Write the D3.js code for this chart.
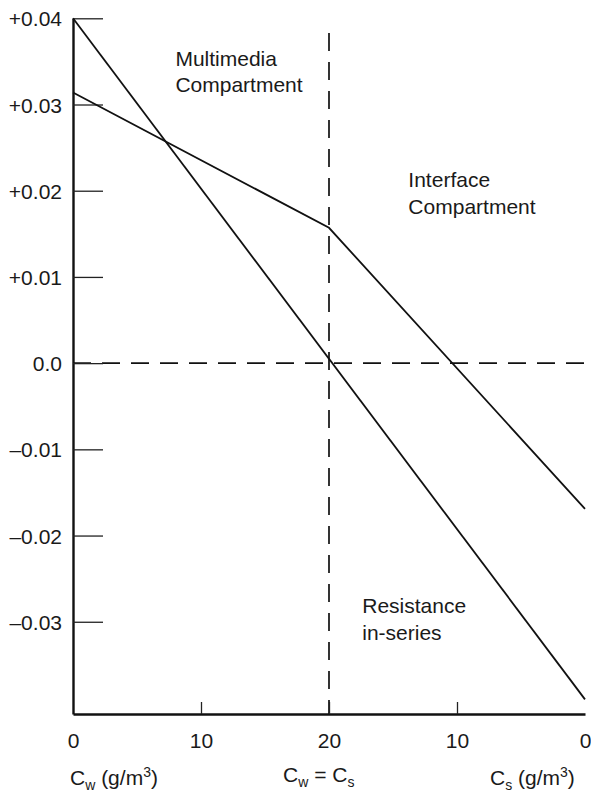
<!DOCTYPE html>
<html>
<head>
<meta charset="utf-8">
<script src="https://cdn.jsdelivr.net/npm/d3@7"></script>
<style>
  body { margin: 0; background: #fff; }
  svg { font-family: "Liberation Sans", Arial, Helvetica, sans-serif; }
  text { fill: #1a1a1a; }
</style>
</head>
<body>
<div id="chart"></div>
<script>
// x runs 0..40: left half is Cw 0 -> 20, right half is Cs 20 -> 0
const yTicks = [0.04, 0.03, 0.02, 0.01, 0, -0.01, -0.02, -0.03];
const yTickLabels = ['+0.04', '+0.03', '+0.02', '+0.01', '0.0', '\u20130.01', '\u20130.02', '\u20130.03'];
const xTicks = [0, 10, 20, 30, 40];
const xTickLabels = ['0', '10', '20', '10', '0'];

const resistanceSeries = [[0, 0.04], [40, -0.039]];
const interfaceSeries = [[0, 0.0314], [20, 0.0157], [40, -0.0169]];

const curveLabels = [
  { lines: ['Multimedia', 'Compartment'], x: 8.0, y: 0.0345 },
  { lines: ['Interface', 'Compartment'], x: 26.2, y: 0.0204 },
  { lines: ['Resistance', 'in-series'], x: 22.6, y: -0.0290 }
];

const W = 591, H = 793;
const margin = { left: 73, right: 6, top: 18.3, bottom: 79 };

const svg = d3.select('#chart').append('svg')
  .attr('width', W)
  .attr('height', H);

const x = d3.scaleLinear()
  .domain([0, 40])
  .range([margin.left, W - margin.right]);

const y = d3.scaleLinear()
  .domain([-0.0407, 0.04])
  .range([H - margin.bottom, margin.top]);

// reference lines
svg.append('line')
  .attr('x1', x(0)).attr('x2', x(40))
  .attr('y1', y(0)).attr('y2', y(0))
  .attr('stroke', '#111').attr('stroke-width', 1.7)
  .attr('stroke-dasharray', '18,11');

svg.append('line')
  .attr('x1', x(20)).attr('x2', x(20))
  .attr('y1', y(0.0383)).attr('y2', y.range()[0])
  .attr('stroke', '#111').attr('stroke-width', 1.7)
  .attr('stroke-dasharray', '18,11');

// y axis
const yAxis = svg.append('g')
  .attr('transform', `translate(${margin.left},0)`)
  .call(d3.axisLeft(y)
    .tickValues(yTicks)
    .tickFormat((d, i) => yTickLabels[i])
    .tickSize(-30)
    .tickSizeOuter(0)
    .tickPadding(11));

yAxis.select('.domain').attr('stroke', '#111').attr('stroke-width', 2.4);
yAxis.selectAll('.tick line').attr('stroke', '#222').attr('stroke-width', 1.3);
yAxis.selectAll('.tick text')
  .attr('x', -11)
  .attr('dy', '0.36em')
  .attr('font-size', 21)
  .style('fill', '#1a1a1a');

// x axis
const xAxis = svg.append('g')
  .attr('transform', `translate(0,${y.range()[0]})`)
  .call(d3.axisBottom(x)
    .tickValues(xTicks)
    .tickFormat((d, i) => xTickLabels[i])
    .tickSize(-12)
    .tickSizeOuter(0));

xAxis.select('.domain').attr('stroke', '#111').attr('stroke-width', 2.4);
xAxis.selectAll('.tick line')
  .attr('stroke', '#222').attr('stroke-width', 1.3)
  .filter(d => d === 0 || d === 40).remove();
xAxis.selectAll('.tick text')
  .attr('y', 34)
  .attr('dy', 0)
  .attr('font-size', 21)
  .style('fill', '#1a1a1a');

// curves
const line = d3.line().x(d => x(d[0])).y(d => y(d[1]));

[resistanceSeries, interfaceSeries].forEach(s => {
  svg.append('path')
    .datum(s)
    .attr('d', line)
    .attr('fill', 'none')
    .attr('stroke', '#111')
    .attr('stroke-width', 1.8);
});

// curve labels
curveLabels.forEach(l => {
  const t = svg.append('text')
    .attr('x', x(l.x))
    .attr('y', y(l.y))
    .attr('font-size', 21);
  l.lines.forEach((s, i) => {
    t.append('tspan')
      .attr('x', x(l.x))
      .attr('dy', i === 0 ? 0 : 26.5)
      .text(s);
  });
});

// bottom axis titles with sub/superscripts
function richLabel(px, py, parts) {
  const t = svg.append('text').attr('x', px).attr('y', py).attr('font-size', 21);
  let shift = 0;
  parts.forEach(p => {
    const target = p.sub ? 5 : p.sup ? -8 : 0;
    t.append('tspan')
      .attr('dy', target - shift)
      .attr('font-size', p.sub || p.sup ? 14 : 21)
      .text(p.t);
    shift = target;
  });
}

richLabel(70, 785, [{ t: 'C' }, { t: 'w', sub: true }, { t: ' (g/m' }, { t: '3', sup: true }, { t: ')' }]);
richLabel(283, 782, [{ t: 'C' }, { t: 'w', sub: true }, { t: ' = C' }, { t: 's', sub: true }]);
richLabel(490, 785, [{ t: 'C' }, { t: 's', sub: true }, { t: ' (g/m' }, { t: '3', sup: true }, { t: ')' }]);
</script>
</body>
</html>
